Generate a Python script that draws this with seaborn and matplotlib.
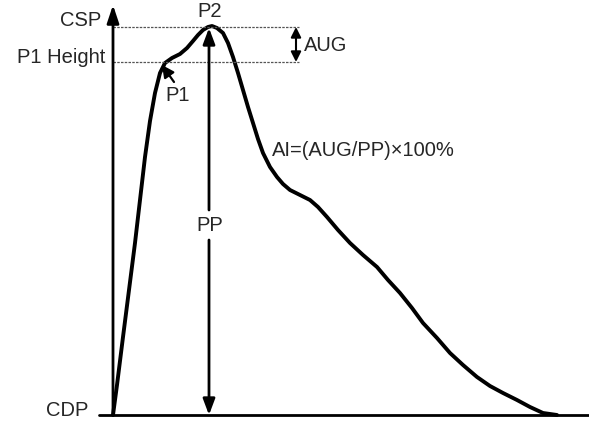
import matplotlib
matplotlib.use("Agg")
import matplotlib.pyplot as plt
import seaborn as sns
import pandas as pd

# Waveform (time in arbitrary units, pressure above CDP)
time = [0, 4, 10, 16, 22, 27, 32, 37, 42, 47, 52, 59, 67, 74, 80, 85, 90, 95, 99,
        104, 110, 115, 120, 125, 130, 135, 140, 145, 150, 157, 164, 170, 177, 187,
        197, 205, 214, 225, 237, 250, 264, 275, 287, 299, 310, 324, 337, 350, 364,
        377, 390, 404, 417, 430, 444]
pressure = [0, 30, 78, 125, 172, 215, 258, 294, 322, 342, 352, 357, 361, 367, 374,
            380, 385, 388, 389, 387, 382, 372, 358, 342, 325, 308, 292, 276, 262, 248,
            238, 231, 225, 220, 215, 208, 198, 185, 172, 160, 148, 135, 122, 107, 92,
            77, 62, 50, 38, 29, 22, 15, 8, 2, 0]

cdp_level = 0
p1_level = 353
csp_level = 388
p1_time = 52
p2_time = 96

level_labels = ["CSP", "P1 Height", "CDP"]
point_labels = ["P1", "P2"]
formula = "AI=(AUG/PP)\u00d7100%"

sns.set_theme(style="white")
plt.rcParams["font.family"] = ["Liberation Sans", "DejaVu Sans"]

fig = plt.figure(figsize=(5.89, 4.23), dpi=100)
ax = fig.add_axes([0, 0, 1, 1])
df = pd.DataFrame({"t": time, "p": pressure})
sns.lineplot(data=df, x="t", y="p", ax=ax, color="black", lw=2.8,
             sort=False, estimator=None)
ax.set_xlim(-113, 476)
ax.set_ylim(-8, 415)
ax.axis("off")

fs = 14.5
# axes
ax.plot([-14, 476], [cdp_level, cdp_level], color="black", lw=2.0)
ax.annotate("", xy=(0, 410), xytext=(0, cdp_level),
            arrowprops=dict(arrowstyle="-|>,head_length=0.9,head_width=0.3",
                            color="black", lw=2.0, shrinkA=0, shrinkB=0))
# dashed reference levels
x_end = 186
ax.plot([0, x_end], [csp_level, csp_level], color="#555555", lw=0.9, ls=(0, (2, 1)))
ax.plot([0, x_end], [p1_level, p1_level], color="#555555", lw=0.9, ls=(0, (2, 1)))

# AUG double arrow
ax.annotate("", xy=(183, csp_level), xytext=(183, p1_level),
            arrowprops=dict(arrowstyle="<|-|>,head_length=0.5,head_width=0.25",
                            color="black", lw=1.5, shrinkA=0, shrinkB=0))
ax.text(191, 370, "AUG", fontsize=fs, ha="left", va="center")

# PP arrow with a gap for the label
pp_t = p2_time
ax.annotate("", xy=(pp_t, csp_level - 1), xytext=(pp_t, 205),
            arrowprops=dict(arrowstyle="-|>,head_length=0.8,head_width=0.3",
                            color="black", lw=2.0, shrinkA=0, shrinkB=0))
ax.annotate("", xy=(pp_t, cdp_level), xytext=(pp_t, 175),
            arrowprops=dict(arrowstyle="-|>,head_length=0.8,head_width=0.3",
                            color="black", lw=2.0, shrinkA=0, shrinkB=0))
ax.text(pp_t + 1, 190, "PP", fontsize=fs, ha="center", va="center")

# level labels
ax.text(-12, 395, level_labels[0], fontsize=fs, ha="right", va="center")
ax.text(-8, 358, level_labels[1], fontsize=fs, ha="right", va="center")
ax.text(-25, 5, level_labels[2], fontsize=fs, ha="right", va="center")

# P2 label
ax.text(pp_t + 1, 404, point_labels[1], fontsize=fs, ha="center", va="center")
# P1 label with arrow
ax.text(65, 320, point_labels[0], fontsize=fs, ha="center", va="center")
ax.annotate("", xy=(p1_time - 3, p1_level - 3), xytext=(61, 333),
            arrowprops=dict(arrowstyle="-|>,head_length=0.6,head_width=0.3",
                            color="black", lw=1.6, shrinkA=0, shrinkB=0))

# formula
ax.text(159, 265, formula, fontsize=fs, ha="left", va="center")

fig.savefig("out.png", dpi=100)
